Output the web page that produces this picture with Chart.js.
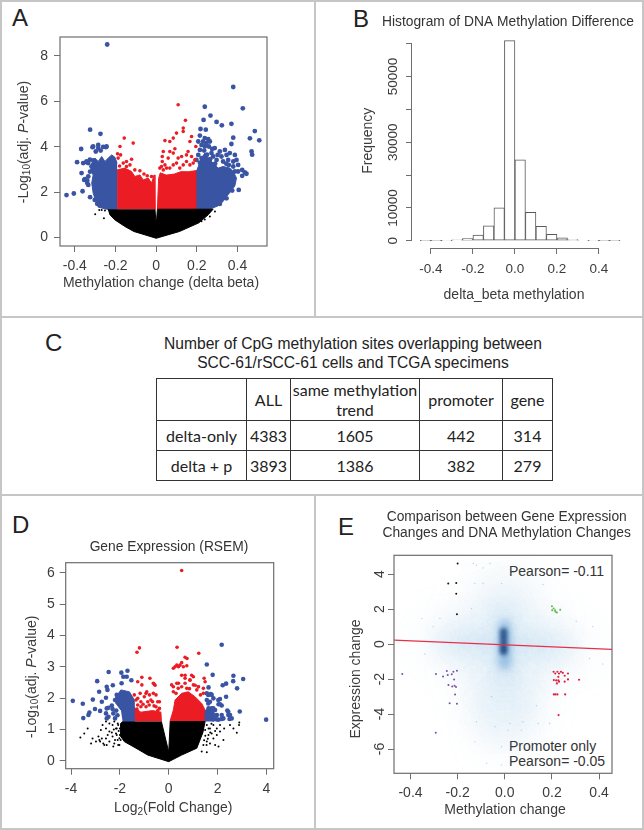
<!DOCTYPE html>
<html><head><meta charset="utf-8">
<script src="https://cdn.jsdelivr.net/npm/chart.js@4"></script>
<style>
html,body{margin:0;padding:0;background:#fff;width:644px;height:830px;overflow:hidden;font-family:"Liberation Sans",Arial,sans-serif;color:#333}
#page{position:relative;width:644px;height:830px;overflow:hidden}
canvas{position:absolute}
.rule{position:absolute;background:#c6c6c6}
.t{position:absolute;white-space:nowrap}
.letter{font-size:24px;line-height:24px;color:#222}
.note{font-size:14px;line-height:16px;color:#333}
.ctitle{font-size:15.6px;line-height:18px;text-align:center;left:153px;width:400px;color:#222}
table{position:absolute;left:156px;top:378px;width:396px;height:102px;border-collapse:collapse;table-layout:fixed;font-family:Lato,"Open Sans",sans-serif;font-size:16px;color:#222}
td{border:1.6px solid #333;text-align:center;padding:0;line-height:20px}
</style></head><body><div id="page"></div>
<script>
// ---------- Panel A: volcano plot of methylation (outlines of the solid clouds, then single points)
const aTicksX=[-0.4,-0.2,0,0.2,0.4], aTicksY=[0,2,4,6,8];
const aBlueCloudL=[[-.192,1.25],[-.244,1.25],[-.285,1.34],[-.296,1.59],[-.31,1.96],[-.317,2.4],[-.31,2.76],[-.322,2.98],[-.317,3.28],[-.301,3.5],[-.285,3.35],[-.268,3.57],[-.252,3.35],[-.236,3.5],[-.219,3.64],[-.203,3.54],[-.192,3.28]];
const aBlueCloudR=[[.198,1.25],[.264,1.25],[.305,1.4],[.329,1.59],[.346,1.81],[.367,2.03],[.387,2.28],[.395,2.62],[.379,2.91],[.362,3.06],[.329,3.13],[.305,3.06],[.28,3.28],[.256,3.5],[.239,3.72],[.223,3.5],[.207,3.13],[.198,2.91]];
const aRedCloudL=[[-.192,1.25],[-.192,2.98],[-.154,3.06],[-.121,2.91],[-.105,2.69],[-.08,2.76],[-.064,2.54],[-.039,2.62],[-.023,2.4],[-.01,2.76],[-.006,1.25]];
const aRedCloudR=[[.006,1.25],[.012,2.6],[.02,2.85],[.05,2.75],[.09,2.8],[.12,2.9],[.16,2.9],[.198,2.95],[.198,1.25]];
const aBlackCloud=[[-.236,1.25],[-.227,1],[-.203,.78],[-.154,.49],[-.11,.27],[0,-.03],[.115,.27],[.21,.65],[.255,1.0],[.28,1.25],[.006,1.25],[.002,.78],[-.002,.78],[-.006,1.25]];
const aBlue=[[-.241,8.5],[-.325,4.75],[-.274,4.57],[-.369,3.9],[-.389,3.32],[-.367,2.84],[-.441,1.87],[-.405,1.94],[-.362,2.04],[-.325,1.78],[-.354,2.54],[-.339,2.4],[-.31,4.01],[-.285,3.94],[-.261,3.99],[-.244,4.01],[-.297,3.79],[-.343,3.32],[-.359,3.28],[-.326,3.43],[-.318,3.13],[-.334,2.69],[-.302,1.66],[-.29,1.49],
[-.313,3.98],[-.285,4.08],[-.273,3.83],[-.247,3.98],[-.342,3.35],[-.334,3.28],[-.35,2.57],[-.339,2.51],[-.334,2.32],[-.3,3.2],[-.31,3.4],[-.325,2.9],
[.379,6.63],[.239,5.76],[.426,5.69],[.267,5.37],[.233,5.18],[.297,5.09],[.323,4.94],[.37,5.01],[.485,4.69],[.461,4.37],[.507,4.28],[.379,4.4],[.218,4.78],[.215,4.49],[.244,4.75],[.37,4.12],[.469,3.79],[.472,3.65],
[.239,4.38],[.256,4.33],[.231,4.23],[.247,4.16],[.264,4.23],[.223,4.08],[.239,4.01],[.259,4.01],[.215,3.86],[.236,3.83],[.207,3.64],[.223,3.5],[.198,3.42],[.288,3.94],[.313,3.79],[.338,3.86],[.302,3.64],[.321,3.57],[.346,3.64],[.362,3.72],[.387,3.64],[.28,3.57],[.297,3.42],[.329,3.35],[.354,3.42],[.379,3.35],[.395,3.42],[.403,3.2],[.379,3.13],[.403,2.91],[.423,2.98],[.436,2.87],[.423,2.72],[.444,2.81],[.406,2.1],[.374,2.07],[.346,1.73],[.313,1.48],[.387,2.91],[.357,3.2],[.272,3.72],[.207,4.23],[.25,3.65],[.265,3.45],[.275,3.9],[.29,3.25],[.345,3.25],[.215,3.3]];
const aRed=[[.018,3.06],[.035,2.98],[.026,3.13],[.051,3.06],[.043,3.2],[.067,3.06],[.084,3.2],[.1,3.28],[.116,3.06],[.133,3.2],[.149,3.35],[.166,3.2],[.182,3.28],[.19,3.42],[.174,3.57],[.149,3.64],[.157,3.79],[.125,3.57],[.108,3.5],[.084,3.72],[.067,3.79],[.03,3.57],[.03,3.35],[.059,3.5],[.092,3.91],[.035,3.79],[.067,4.23],[.043,4.27],[.084,4.38],[.1,4.6],[.133,4.82],[.133,4.67],[.174,4.45],[.166,4.23],[.195,4.01],[.144,5.16],[.108,5.85],
[-.157,4.38],[-.113,4.16],[-.178,4.01],[-.19,3.69],[-.175,3.64],[-.187,3.5],[-.146,3.35],[-.121,3.45],[-.129,3.2],[-.162,3.28],[-.105,2.98],[-.08,2.94],[-.044,2.72],[-.023,2.69],[-.146,3.13],[-.18,3.15],[-.06,2.8]];
const aBlack=[[-.268,1.22],[-.252,1.19],[-.28,1.22],[-.3,1.03],[-.257,.85],[-.227,1.07],[-.21,.93],[.289,1.15],[.264,.93],[.239,.8],[.223,.72]];
// ---------- Panel B: histogram
const bBins=[-.425,-.375,-.325,-.275,-.225,-.175,-.125,-.075,-.025,.025,.075,.125,.175,.225,.275,.325,.375,.425,.475];
const bFreq=[20,30,60,250,700,1720,4560,10040,60900,24650,8620,4360,1930,900,400,150,50,30,20];
const bTicksX=[-0.4,-0.2,0,0.2,0.4], bLabelsX=['-0.4','-0.2','0.0','0.2','0.4'];
const bTicksY=[0,10000,20000,30000,40000,50000,60000], bLabelsY=['0','10000','','30000','','50000',''];
// ---------- Panel C: table
const cHeader=['','ALL','same methylation trend','promoter','gene'];
const cRows=[['delta-only','4383','1605','442','314'],['delta + p','3893','1386','382','279']];
// ---------- Panel D: volcano plot of expression
const dTicksX=[-4,-2,0,2,4], dTicksY=[0,1,2,3,4,5,6];
const dBlueCloudL=[[-1.89,1.25],[-1.41,1.25],[-1.41,1.94],[-1.61,2.2],[-1.96,2.26],[-2.16,2.04],[-2.16,1.83],[-1.96,1.62]];
const dBlueCloudR=[[1.49,1.25],[1.49,1.6],[1.69,1.7],[1.9,1.5],[1.83,1.25]];
const dRedCloudL=[[-1.41,1.25],[-1.41,1.7],[-1.14,1.55],[-.66,1.6],[-.32,1.55],[-.3,1.25]];
const dRedCloudR=[[.05,1.25],[.19,1.62],[.26,1.94],[.53,2.15],[.8,2.2],[1.08,2.04],[1.35,1.83],[1.56,1.51],[1.49,1.25]];
const dBlackCloud=[[-1.89,1.25],[-1.96,1.19],[-1.96,.77],[-1.82,.61],[-1.34,.4],[-.86,.18],[0,-.03],[.53,.18],[1.15,.4],[1.28,.66],[1.4,.9],[1.49,1.25],[.06,1.25],[0,.28],[-.3,1.25]];
const dRed=[[.53,6.07],[-1.2,3.6],[-1.3,3.46],[.34,3.62],[1.23,3.43],[.67,3.3],[.75,3.26],[.53,3.13],[.33,3.05],[.19,2.95],[.74,3.03],[.6,3],[.4,3],[.53,2.73],[.94,2.73],[1.01,2.68],[.67,2.63],[.87,2.57],[1.49,2.52],[1.45,2.63],[1.08,2.41],[1.22,2.36],[.19,2.36],[.4,2.47],[.53,2.36],[.67,2.47],
[.12,2.42],[.33,2.47],[.67,2.73],[.87,2.58],[1.01,2.42],[1.21,2.36],[1.15,2.26],[1.42,2.31],[1.42,2.15],[.19,2.2],[.39,2.31],[.74,2.31],[.26,3],[.46,3.05],[.85,2.3],[1.3,2.1],[.3,2.15],
[-1.41,2.1],[-1.27,1.99],[-1.14,1.88],[-.93,2.15],[-1,2.04],[-.79,2.1],[-.63,2.15],[-.52,2.1],[-.45,1.88],[-.38,1.88],[-.73,1.94],[-1.27,2.52],[-1.1,2.66],[-.77,2.63],[-.63,2.47],[-.59,2.44],[-1.1,2.42],[-.86,1.88],[-.66,1.88],[-1.14,1.72],[-.52,1.72],[-1.27,1.78],[-.93,1.72],[-.38,1.67],[-1.34,1.94],[-.9,2.2],[-.56,2.41],[-1.17,2.15],[-.8,1.78],[-1.05,1.8],[-.6,1.75],[-.45,1.6],[-1.3,1.65]];
const dBlue=[[2.17,3.7],[1.56,3.07],[-2.46,2.83],[-1.94,2.81],[-1.69,2.87],[-1.86,2.68],[-1.72,2.68],[-1.53,2.57],[-2.93,2.54],[-1.93,2.47],[-2.29,2.41],[-2.54,2.36],[-2.51,2.26],[-2.85,2.2],[-3.93,1.91],[-3.52,1.82],[-3.11,1.95],[-2.57,2.01],[-2.74,1.88],[-3.25,1.54],[-3.29,1.46],[-3.5,1.36],[-3.02,1.65],[-2.81,1.59],[-2.54,1.67],[-2.47,1.69],[-2.33,1.76],[-2.57,1.51],[-2.47,1.4],[-2.27,1.51],[-2.54,1.35],[-2.2,1.35],[-2.13,2.1],[-2.2,1.94],[-2.3,1.65],[-2.15,1.6],[-2.1,1.45],
[1.8,2.74],[2.65,2.71],[3.05,2.61],[2.21,2.41],[2.35,2.46],[2.64,2.54],[2.8,2.31],[1.63,2.34],[1.56,2.15],[1.72,2.13],[2.35,2.04],[2.1,1.97],[2.04,1.8],[2.17,1.76],[3.99,1.31],[2.91,1.57],[2.4,1.6],[2.51,1.46],[2.58,1.35],[1.97,1.46],[2.17,1.33],[1.83,1.99],[1.69,1.88],[1.63,1.67],[1.83,1.67],[1.69,1.51],[1.9,1.33],[2.04,1.31],[2.49,1.33],
[1.62,2.1],[1.56,1.94],[1.76,2.1],[1.62,1.83],[1.76,1.67],[1.9,1.62],[1.69,1.46],[1.83,1.41],[2.03,1.94],[2.1,1.8],[2.44,1.56],[2.44,1.46],[1.83,1.32],[2.17,1.46],[2.24,1.35],[1.96,1.32]];
const dBlack=[[-3.62,.74],[-3.46,.87],[-3.32,1.03],[-3.18,.55],[-3.12,.71],[-2.98,.61],[-2.84,.66],[-2.78,.98],[-2.71,1.14],[-2.64,.5],[-2.57,1.25],[-2.57,1.03],[-2.57,.71],[-2.5,.82],[-2.43,1.19],[-2.43,.93],[-2.43,.61],[-2.3,1.14],[-2.3,.77],[-2.23,1.25],[-2.23,.55],[-2.16,1.03],[-2.16,.87],[-2.09,1.19],[-2.09,.66],[-2.02,.5],[-2.88,.77],[-2.68,.55],[-2.54,.5],[-2.33,.9],[-2.2,.66],[-2.13,1.03],[-2.07,.5],[-2.27,.45],[-2,.82],[-2.07,1.14],[-2,1.03],[-1.97,.66],[-2.74,.71],[-2.81,.61],[-2.13,.82],[-2.05,.95],[-2.02,.72],[-2.25,1.0],
[1.56,1.14],[1.69,1.03],[1.83,1.14],[1.97,1.03],[2.1,1.14],[1.63,.82],[1.83,.71],[1.97,.82],[2.24,.66],[1.69,.55],[1.9,.5],[2.04,.45],[1.35,.29],[1.56,.27],[2.65,1.03],[2.79,.89],[2.88,1.14],[2.89,1.22],[2.51,1.14],[2.27,1.03],[1.56,.61],[1.76,.87],[1.49,.98],[1.63,1.03],[2.1,.93],[1.5,.8],[1.45,.65],[1.6,.7],[1.7,.9],[1.55,.5],[1.75,1.18],[1.9,.95],[1.42,.5]];
// ---------- Panel E: smoothed scatter
const eTicksX=[-0.4,-0.2,0,0.2,0.4], eLabelsX=['-0.4','-0.2','0.0','0.2','0.4'];
const eTicksY=[-6,-4,-2,0,2,4];
const eFit=[[-.47,.23],[.4547,-.3]];
const eBlack=[[-.2,4.61],[-.24,3.47],[-.206,3.5],[-.206,2.88],[-.203,1.71]];
const eGreen=[[.2,2.17],[.207,2.04],[.201,1.94],[.213,1.94],[.221,1.81],[.235,1.96],[.215,1.85]];
const ePurple=[[-.435,-1.71],[-.292,-1.71],[-.246,-1.54],[-.203,-1.52],[-.218,-1.58],[-.225,-1.73],[-.242,-1.77],[-.262,-1.85],[-.215,-2.02],[-.239,-2.34],[-.223,-2.42],[-.213,-2.38],[-.207,-2.46],[-.211,-2.88],[-.234,-3.39],[-.203,-3.41],[-.293,-5.07]];
const eRed=[[.207,-1.58],[.214,-1.68],[.223,-1.58],[.23,-1.68],[.238,-1.58],[.246,-1.64],[.268,-1.68],[.254,-1.81],[.227,-1.87],[.208,-2.06],[.218,-2.08],[.227,-2.08],[.221,-2.25],[.23,-2.15],[.254,-2.15],[.268,-2.02],[.315,-2.04],[.208,-2.88],[.215,-2.88],[.223,-2.88],[.256,-2.88],[.228,-4.06]];
const eSparse=[[-.134,4.61],[-.12,4.51],[-.092,4.36],[-.063,4.61],[-.127,3.47],[-.092,3.47],[-.014,3.47],[.162,3.41],[-.141,2.04],[-.352,1.47],[-.275,1.47],[-.304,1],[.373,1],[.303,1.31],[-.339,-.57],[.359,-.82],[.415,-1.14],[-.056,-3.01],[.134,-3.52],[-.12,-4.44],[-.042,-4.73],[.021,-4.54],[.077,-4.44],[.141,-4.54],[.19,-4.54],[.014,-4.92],[.07,-4.92],[-.127,-5.59],[-.014,-5.87],[-.077,-6.82],[-.014,-6.91]];
const eHaze=[[0,0],[-.14,.1],[.14,-.1],[-.26,.2],[.26,-.2],[0,2],[0,3.2],[0,-2],[0,-3.6],[.06,-3.6],[-.06,-3.6],[0,-5],[-.1,1.5],[.1,1.5],[-.1,-1.5],[.1,-1.5]];
const eBand=[[-.24,.1],[-.16,.06],[-.08,.03],[0,1.7],[0,-1.7],[0,0],[.08,-.03],[.16,-.06],[.24,-.1]];
const eGlow=[[0,1.05],[0,.6],[0,.17],[0,-.3],[0,-.75],[0,-1.15]];
const eCore=[[-.005,.72],[-.005,.42],[-.005,.12],[-.005,-.18],[-.005,-.42]];

const page=document.getElementById('page');
const INK='#3c3c3c', AXIS='#6e6e6e', SANS='"Liberation Sans",Arial,sans-serif';
const pts=a=>a.map(p=>({x:p[0],y:p[1]}));
function rule(l,t,w,h){const d=document.createElement('div');d.className='rule';d.style.cssText=`left:${l}px;top:${t}px;width:${w}px;height:${h}px`;page.appendChild(d);}
rule(0,0,644,2);rule(0,0,2,830);rule(642,0,2,830);rule(0,828,644,2);rule(0,316,644,2);rule(0,494,644,2);rule(314,0,2,317);rule(314,495,2,335);
function text(cls,s,l,t){const d=document.createElement('div');d.className='t '+cls;d.textContent=s;d.style.left=l+'px';d.style.top=t+'px';page.appendChild(d);return d;}
text('letter','A',12,6);text('letter','B',353,7);text('letter','C',45,331);text('letter','D',12,513);text('letter','E',338,515);
text('ctitle','Number of CpG methylation sites overlapping between',153,335);
text('ctitle','SCC-61/rSCC-61 cells and TCGA specimens',153,353.5);
text('note','Pearson= -0.11',509,563);text('note','Promoter only',509,738);text('note','Pearson= -0.05',509,753);
// table
const tb=document.createElement('table');
const colW=[90,44,129,83,50];
tb.innerHTML='<colgroup>'+colW.map(w=>`<col style="width:${w}px">`).join('')+'</colgroup>'+
 '<tr style="height:42px">'+cHeader.map(c=>`<td>${c}</td>`).join('')+'</tr>'+
 cRows.map(r=>'<tr style="height:30px">'+r.map(c=>`<td>${c}</td>`).join('')+'</tr>').join('');
page.appendChild(tb);

const framePlugin={id:'frame',
 afterLayout(c,_,o){if(o.titleX!=null&&c.titleBlock){const b=c.titleBlock,w=b.right-b.left;b.left=o.titleX-w/2;b.right=b.left+w;}},
 afterDraw(c,_,o){if(!o.box)return;const a=c.chartArea,x=c.ctx;x.save();x.strokeStyle=AXIS;x.lineWidth=1.2;x.strokeRect(a.left,a.top,a.right-a.left,a.bottom-a.top);x.restore();}};
const blurPlugin={id:'softcloud',
 beforeDatasetDraw(c,a){const b=c.data.datasets[a.index].blur;if(b){c.ctx.save();c.ctx.filter=`blur(${b}px)`;}},
 afterDatasetDraw(c,a){if(c.data.datasets[a.index].blur)c.ctx.restore();}};
const axisLinePlugin={id:'rAxes',afterDraw(c,_,o){if(!o.on)return;const x=c.ctx,sx=c.scales.x,sy=c.scales.y;x.save();x.strokeStyle=AXIS;x.lineWidth=1;x.beginPath();
 const xl=sx.getPixelForValue(o.xFrom),xr=sx.getPixelForValue(o.xTo),yb=sy.getPixelForValue(o.yFrom),yt=sy.getPixelForValue(o.yTo);
 x.moveTo(xl,sy.bottom+.5);x.lineTo(xr,sy.bottom+.5);x.moveTo(sx.left-.5,yb);x.lineTo(sx.left-.5,yt);x.stroke();x.restore();}};

function richTitle(scale,P,t){ // draw an axis title, with subscript and italic runs, centred on a page position
 scale.drawTitle=function(){const x=this.ctx,fs=14;x.save();x.translate(t.cx-P.l,t.cy-P.t);if(t.rot)x.rotate(-Math.PI/2);x.textBaseline='middle';x.fillStyle=INK;
  const f=s=>(s.it?'italic ':'')+(s.sub?10:fs)+'px '+SANS;let w=0;t.runs.forEach(s=>{x.font=f(s);w+=x.measureText(s.t).width;});
  let p=-w/2;t.runs.forEach(s=>{x.font=f(s);x.fillText(s.t,p,s.sub?3.5:0);p+=x.measureText(s.t).width;});x.restore();};
}
function plot(P,B,cfg){
 const cv=document.createElement('canvas');cv.width=P.r-P.l;cv.height=P.b-P.t;cv.style.left=P.l+'px';cv.style.top=P.t+'px';page.appendChild(cv);
 const tf=cfg.titleFont||13.5, lines=cfg.title?(Array.isArray(cfg.title)?cfg.title.length:1):0, lh=cfg.titleLH||1.2;
 const titleH=lines?lines*tf*lh:0, padTop=lines?cfg.titleTop-P.t:B.t-P.t;
 const xTicks=cfg.xTicks,yTicks=cfg.yTicks;
 const tickFont={family:SANS,size:cfg.tickSize||14};
 return new Chart(cv,{type:cfg.type||'scatter',data:{datasets:cfg.datasets},plugins:[framePlugin,blurPlugin,axisLinePlugin],options:{
  responsive:false,animation:false,events:[],devicePixelRatio:1,
  layout:{padding:{left:0,right:P.r-B.r,top:padTop,bottom:0}},
  plugins:{legend:{display:false},tooltip:{enabled:false},frame:{box:!cfg.rAxes,titleX:cfg.titleCx!=null?cfg.titleCx-P.l:null},rAxes:cfg.rAxes||{},
   title:{display:!!lines,text:cfg.title,font:{family:SANS,size:tf,weight:'normal',lineHeight:lh},color:'#333',padding:{top:0,bottom:lines?B.t-cfg.titleTop-titleH:0}}},
  scales:{
   x:{type:'linear',offset:false,min:cfg.xr[0],max:cfg.xr[1],
    title:{display:true,text:cfg.xTitle.runs.map(r=>r.t).join('')},
    border:{display:false},grid:{display:true,drawOnChartArea:false,offset:false,tickLength:6,tickColor:AXIS,tickWidth:1},
    ticks:{autoSkip:false,maxRotation:0,minRotation:0,color:INK,font:tickFont,padding:cfg.xPad,callback:(v,i)=>cfg.xLabels?cfg.xLabels[i]:String(v)},
    afterBuildTicks(s){s.ticks=xTicks.map(v=>({value:v}));},
    afterFit(s){s.height=P.b-B.b;richTitle(s,P,cfg.xTitle);}},
   y:{type:'linear',min:cfg.yr[0],max:cfg.yr[1],
    title:{display:true,text:cfg.yTitle.runs.map(r=>r.t).join('')},
    border:{display:false},grid:{display:true,drawOnChartArea:false,tickLength:6,tickColor:AXIS,tickWidth:1},
    ticks:{autoSkip:false,maxRotation:cfg.yRot?90:0,minRotation:cfg.yRot?90:0,crossAlign:cfg.yRot?'center':'near',color:INK,font:tickFont,padding:cfg.yPad,callback:(v,i)=>cfg.yLabels?cfg.yLabels[i]:String(v)},
    afterBuildTicks(s){s.ticks=yTicks.map(v=>({value:v}));},
    afterFit(s){s.width=B.l-P.l;richTitle(s,P,cfg.yTitle);}}
  }}});
}
const cloud=(a,c,ord)=>({type:'scatter',data:pts(a),showLine:true,fill:'shape',backgroundColor:c,borderColor:c,borderWidth:1,pointRadius:0,tension:0,order:ord});
const dots=(a,c,r,ord)=>({type:'scatter',data:pts(a),showLine:false,backgroundColor:c,borderColor:c,borderWidth:0,pointRadius:r,order:ord});
const BLUE='#3a54a4',RED='#ec1c24',BLK='#000';
const logP=[{t:'-Log'},{t:'10',sub:1},{t:'(adj. '},{t:'P',it:1},{t:'-value)'}];

// Panel A
plot({l:2,t:2,r:314,b:316},{l:60,t:37,r:267,b:246},{xr:[-.473,.545],yr:[-.37,8.83],xTicks:aTicksX,yTicks:aTicksY,xPad:6,yPad:6,
 xTitle:{cx:161,cy:282.7,runs:[{t:'Methylation change (delta beta)'}]},yTitle:{cx:24,cy:142,rot:1,runs:logP},
 datasets:[dots(aRed,RED,1.8,1),dots(aBlue,BLUE,2.4,2),dots(aBlack,BLK,1,3),cloud(aBlueCloudL,BLUE,6),cloud(aBlueCloudR,BLUE,6),cloud(aRedCloudL,RED,6),cloud(aRedCloudR,RED,6),cloud(aBlackCloud,BLK,5)]});

// Panel B
plot({l:358,t:2,r:644,b:316},{l:412,t:40,r:625,b:248},{type:'bar',xr:[-.49,.524],yr:[-2200,61100],xTicks:bTicksX,yTicks:bTicksY,xLabels:bLabelsX,yLabels:bLabelsY,yRot:true,xPad:7,yPad:-6,tickSize:13.5,
 title:'Histogram of DNA Methylation Difference',titleTop:14,titleFont:13.8,titleCx:508,
 rAxes:{on:true,xFrom:-.4,xTo:.4,yFrom:0,yTo:60000},
 xTitle:{cx:514,cy:295,runs:[{t:'delta_beta methylation'}]},yTitle:{cx:368,cy:140.7,rot:1,runs:[{t:'Frequency'}]},
 datasets:[{type:'bar',data:bBins.map((b,i)=>({x:b,y:bFreq[i]})),backgroundColor:'#fff',borderColor:'#5a5a5a',borderWidth:1,borderSkipped:false,barPercentage:1,categoryPercentage:1}]});

// Panel D
plot({l:4,t:497,r:314,b:828},{l:65.7,t:562.7,r:273.7,b:768.7},{xr:[-4.22,4.30],yr:[-.255,6.32],xTicks:dTicksX,yTicks:dTicksY,xPad:6,yPad:5,
 title:'Gene Expression (RSEM)',titleTop:539,titleFont:13.8,titleCx:169,
 xTitle:{cx:173.3,cy:808.3,runs:[{t:'Log'},{t:'2',sub:1},{t:'(Fold Change)'}]},yTitle:{cx:31.7,cy:676.7,rot:1,runs:logP},
 datasets:[dots(dRed,RED,1.8,1),dots(dBlue,BLUE,2.3,2),dots(dBlack,BLK,1,3),cloud(dBlueCloudL,BLUE,6),cloud(dBlueCloudR,BLUE,6),cloud(dRedCloudL,RED,6),cloud(dRedCloudR,RED,6),cloud(dBlackCloud,BLK,5)]});

// Panel E
const h=dots(eHaze,'rgba(130,175,225,.055)',32,13);h.blur=16;
const b2=dots(eBand,'rgba(70,140,210,.09)',13,12);b2.blur=10;
const g=dots(eGlow,'rgba(40,120,195,.32)',6.5,11);g.blur=4;
const k=dots(eCore,'rgba(8,50,110,.8)',3.6,10);k.blur=2.2;
plot({l:348,t:497,r:644,b:828},{l:394,t:555.3,r:612.3,b:773.3},{xr:[-.47,.4547],yr:[-7.39,5.08],xTicks:eTicksX,yTicks:eTicksY,xLabels:eLabelsX,yRot:true,xPad:5,yPad:2,
 title:['Comparison between Gene Expression','Changes and DNA Methylation Changes'],titleTop:508.7,titleFont:13.8,titleLH:1.16,titleCx:506.7,
 xTitle:{cx:505,cy:810,runs:[{t:'Methylation change'}]},yTitle:{cx:355.7,cy:679,rot:1,runs:[{t:'Expression change'}]},
 datasets:[{type:'scatter',data:pts(eFit),showLine:true,borderColor:'#e6304a',borderWidth:1.4,pointRadius:0,order:1},
  dots(eBlack,'#111',1,2),dots(eGreen,'#5cb848',1,2),dots(ePurple,'#7a4fa0',1,2),dots(eRed,'#e0203a',1.1,2),dots(eSparse,'rgba(120,165,215,.5)',.7,9),k,g,b2,h]});
</script></body></html>
